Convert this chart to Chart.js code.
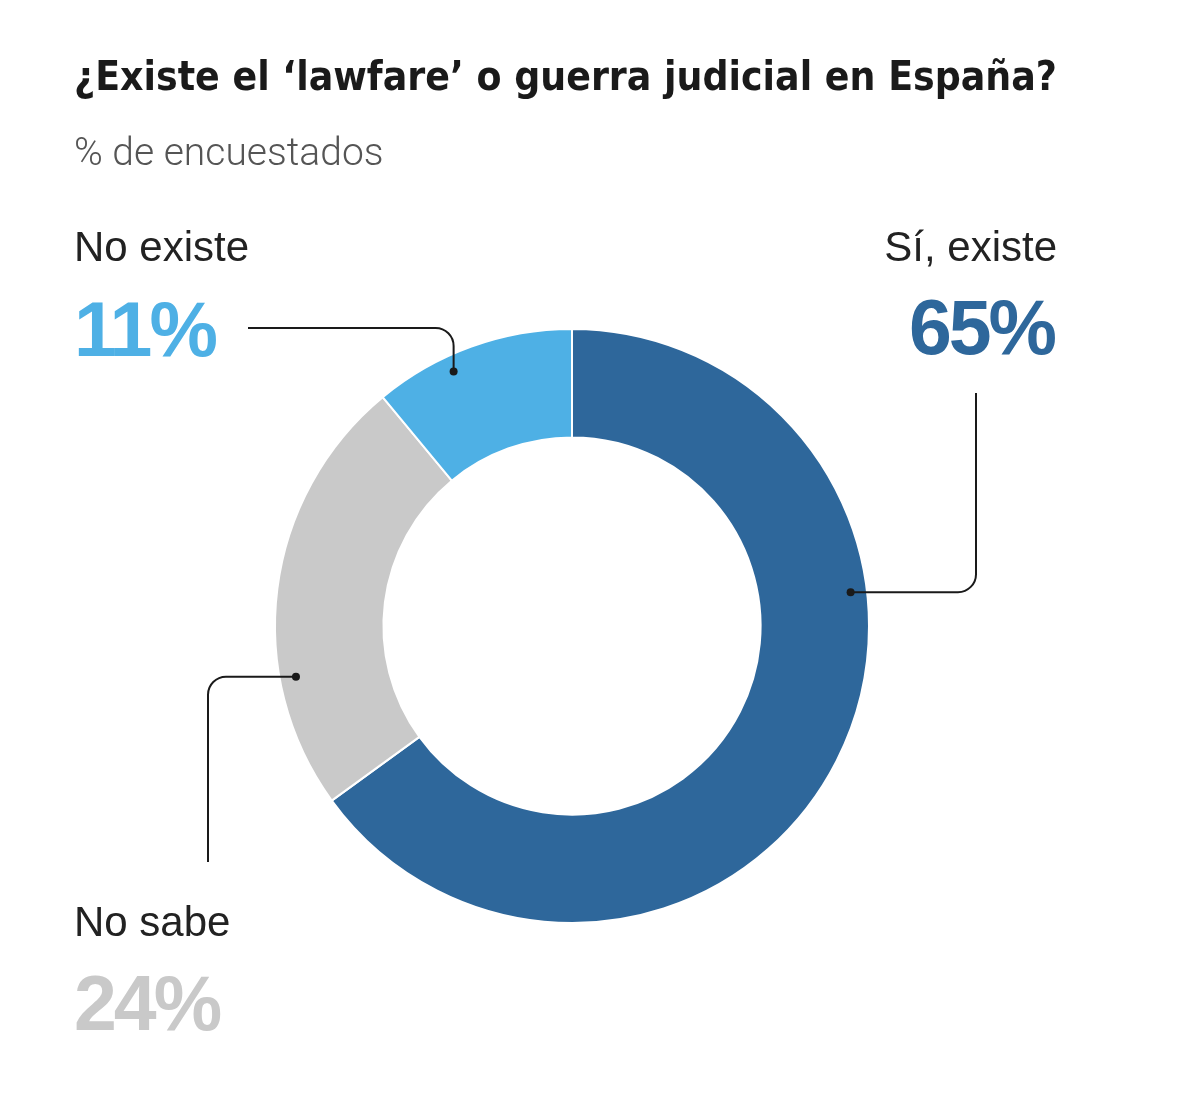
<!DOCTYPE html>
<html lang="es">
<head>
<meta charset="utf-8">
<script src="https://cdn.jsdelivr.net/npm/chart.js@4.4.1/dist/chart.umd.min.js"></script>
<style>
    body { margin: 0; background: #fff; }
    #wrap { position: relative; width: 1200px; height: 1120px; font-family: "Liberation Sans", Arial, sans-serif; }
    #wrap canvas { position: absolute; left: 0; top: 0; }
    .t { position: absolute; white-space: nowrap; line-height: 1; }
    #titulo { left: 74px; top: 56px; font-size: 40px; font-weight: bold; color: #1a1a1a;
        font-family: "Liberation Sans Narrow", "DejaVu Sans Condensed", "Liberation Sans", sans-serif; transform-origin: 0 0; }
    #subtitulo { left: 74px; top: 133px; font-size: 39px; font-weight: 300; color: #555;
        font-family: Roboto, "Liberation Sans", sans-serif; }
    .cat { font-size: 42px; color: #222; }
    .pct { font-size: 77px; font-weight: bold; letter-spacing: -3px; }
</style>
</head>
<body>
<div id="wrap">
    <canvas id="grafico" width="1200" height="1120"></canvas>
    <div class="t" id="titulo">¿Existe el ‘lawfare’ o guerra judicial en España?</div>
    <div class="t" id="subtitulo">% de encuestados</div>

    <div class="t cat" id="cat-0"></div>
    <div class="t pct" id="pct-0"></div>
    <div class="t cat" id="cat-1"></div>
    <div class="t pct" id="pct-1"></div>
    <div class="t cat" id="cat-2"></div>
    <div class="t pct" id="pct-2"></div>
</div>

<script>
// Datos de la encuesta (en orden horario desde las 12)
const categorias = ['Sí, existe', 'No sabe', 'No existe'];
const porcentajes = [65, 24, 11];
const colores = ['#2e679b', '#c9c9c9', '#4eb0e5'];

// Posición de las etiquetas y de las líneas guía (px)
const etiquetas = [
    { right: 143, catTop: 226, pctTop: 289, align: 'right' },
    { left: 74, catTop: 901, pctTop: 965 },
    { left: 74, catTop: 226, pctTop: 291 }
];
// fracción del ángulo dentro del sector donde va el punto
const anclas = [0.355, 0.296, 0.37];
const radioPunto = 0.945;

// Rellena los textos de las etiquetas
categorias.forEach((cat, i) => {
    const catEl = document.getElementById('cat-' + i);
    const pctEl = document.getElementById('pct-' + i);
    const pos = etiquetas[i];
    catEl.textContent = cat;
    pctEl.textContent = porcentajes[i] + '%';
    pctEl.style.color = colores[i];
    catEl.style.top = pos.catTop + 'px';
    pctEl.style.top = pos.pctTop + 'px';
    if (pos.align === 'right') {
        catEl.style.right = pos.right + 'px';
        pctEl.style.right = (pos.right + 3) + 'px';
    } else {
        catEl.style.left = pos.left + 'px';
        pctEl.style.left = pos.left + 'px';
    }
});

// Dibuja una línea con esquina redondeada
function lineaCodo(ctx, puntos, radio) {
    ctx.beginPath();
    ctx.moveTo(puntos[0][0], puntos[0][1]);
    for (let i = 1; i < puntos.length - 1; i++) {
        ctx.arcTo(puntos[i][0], puntos[i][1], puntos[i + 1][0], puntos[i + 1][1], radio);
    }
    const ult = puntos[puntos.length - 1];
    ctx.lineTo(ult[0], ult[1]);
    ctx.stroke();
}

// Plugin para las líneas guía hacia las etiquetas
const lineasGuia = {
    id: 'lineasGuia',
    afterDatasetsDraw(chart) {
        const ctx = chart.ctx;
        const arcos = chart.getDatasetMeta(0).data;
        const puntos = arcos.map((arc, i) => {
            const p = arc.getProps(['x', 'y', 'startAngle', 'endAngle', 'outerRadius'], true);
            const ang = p.startAngle + (p.endAngle - p.startAngle) * anclas[i];
            const r = p.outerRadius * radioPunto;
            return [p.x + Math.cos(ang) * r, p.y + Math.sin(ang) * r];
        });

        ctx.save();
        ctx.strokeStyle = '#1a1a1a';
        ctx.fillStyle = '#1a1a1a';
        ctx.lineWidth = 2;

        // Sí, existe: baja desde la etiqueta y gira a la izquierda
        const d0 = puntos[0];
        lineaCodo(ctx, [[976, 393], [976, d0[1]], [d0[0], d0[1]]], 18);
        // No sabe: sube desde la etiqueta y gira a la derecha
        const d1 = puntos[1];
        lineaCodo(ctx, [[208, 862], [208, d1[1]], [d1[0], d1[1]]], 18);
        // No existe: horizontal desde el texto y baja al sector
        const d2 = puntos[2];
        lineaCodo(ctx, [[248, 328], [d2[0], 328], [d2[0], d2[1]]], 18);

        puntos.forEach(p => {
            ctx.beginPath();
            ctx.arc(p[0], p[1], 4, 0, Math.PI * 2);
            ctx.fill();
        });
        ctx.restore();
    }
};

new Chart(document.getElementById('grafico'), {
    type: 'doughnut',
    data: {
        labels: categorias,
        datasets: [{
            data: porcentajes,
            backgroundColor: colores,
            borderColor: '#fff',
            borderWidth: 2
        }]
    },
    options: {
        responsive: false,
        animation: false,
        devicePixelRatio: 1,
        cutout: '63.5%',
        layout: { padding: { left: 274, right: 330, top: 328, bottom: 196 } },
        plugins: {
            legend: { display: false },
            tooltip: { enabled: false }
        }
    },
    plugins: [lineasGuia]
});

// Ajusta el ancho del título al del original
const titulo = document.getElementById('titulo');
const anchoTitulo = titulo.getBoundingClientRect().width;
titulo.style.transform = 'scaleX(' + (983 / anchoTitulo) + ')';
</script>
</body>
</html>
